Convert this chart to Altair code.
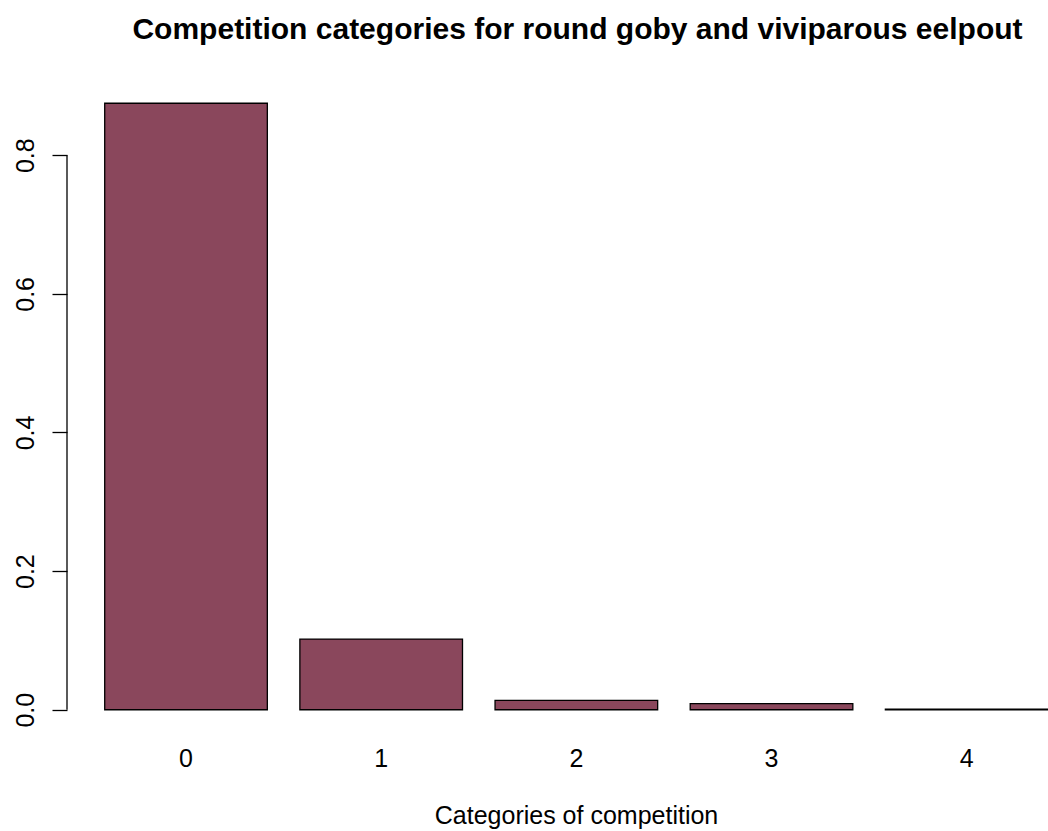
import altair as alt
import pandas as pd

# Share of observations in each competition category
categories = ["0", "1", "2", "3", "4"]
proportions = [0.875, 0.102, 0.0135, 0.0087, 0.0008]

# Extent of the y axis line and its tick positions
axis_ticks = [0.0, 0.2, 0.4, 0.6, 0.8]

FONT = "Liberation Sans"
BAR_FILL = "#8A475C"

df = pd.DataFrame({"category": categories, "proportion": proportions})
y_scale = alt.Scale(domain=[-0.035, 0.91], nice=False, zero=False)

bars = alt.Chart(df).mark_bar(
    fill=BAR_FILL, stroke="black", strokeWidth=1.3
).encode(
    x=alt.X(
        "category:N",
        sort=categories,
        scale=alt.Scale(paddingInner=0.1667, paddingOuter=0.0966, align=1),
        axis=alt.Axis(
            labelAngle=0,
            domain=False,
            ticks=False,
            tickSize=0,
            labelPadding=32,
            labelBaseline="alphabetic",
            labelFont=FONT,
            labelFontSize=25,
            labelColor="black",
            title="Categories of competition",
            titleFont=FONT,
            titleFontSize=25,
            titleFontWeight="normal",
            titleColor="black",
            titleX=509,
            titleY=89,
            titleAlign="center",
            titleBaseline="alphabetic",
        ),
    ),
    y=alt.Y(
        "proportion:Q",
        scale=y_scale,
        axis=alt.Axis(
            values=axis_ticks,
            format=".1f",
            domain=False,
            grid=False,
            tickSize=15,
            tickColor="black",
            tickWidth=1.3,
            labelAngle=270,
            labelAlign="center",
            labelBaseline="alphabetic",
            labelPadding=19,
            labelFont=FONT,
            labelFontSize=25,
            labelColor="black",
            title=None,
        ),
    ),
)

# Axis line running only from the first to the last tick
axis_line = alt.Chart(pd.DataFrame({"lo": [axis_ticks[0]], "hi": [axis_ticks[-1]]})).mark_rule(
    color="black", strokeWidth=1.3
).encode(
    x=alt.value(0),
    y=alt.Y("lo:Q", scale=y_scale),
    y2="hi:Q",
)

chart = alt.layer(bars, axis_line).properties(
    width=981,
    height=655,
    background="white",
    autosize=alt.AutoSizeParams(type="none"),
    padding={"left": 67, "top": 79, "right": 0, "bottom": 97},
    title=alt.TitleParams(
        text="Competition categories for round goby and viviparous eelpout",
        font=FONT,
        fontSize=30,
        fontWeight="bold",
        color="black",
        anchor="middle",
        frame="group",
        dx=20,
        offset=10,
        baseline="alphabetic",
    ),
).configure_view(strokeOpacity=0, strokeWidth=0)

chart.save("out.html", embed_options={"renderer": "svg", "actions": False})
